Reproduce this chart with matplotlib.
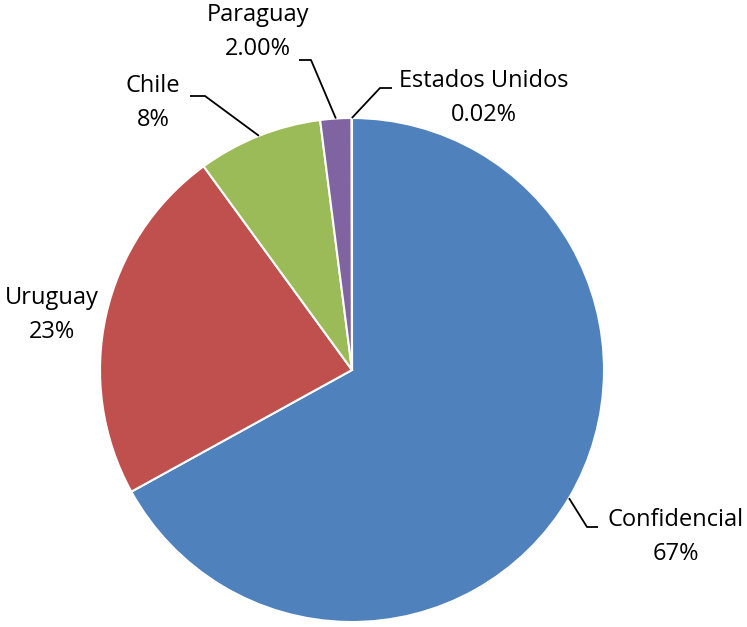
import numpy as np
import matplotlib
matplotlib.use("Agg")
import matplotlib.pyplot as plt

# datos del gráfico
paises = ["Confidencial", "Uruguay", "Chile", "Paraguay", "Estados Unidos"]
valores = [66.98, 23.0, 8.0, 2.0, 0.02]
etiquetas_pct = ["67%", "23%", "8%", "2.00%", "0.02%"]
colores = ["#4F81BD", "#C0504D", "#9BBB59", "#8064A2", "#4BACC6"]

W, H = 747, 627
plt.rcParams["font.family"] = ["Open Sans", "DejaVu Sans"]

fig = plt.figure(figsize=(W / 100, H / 100), dpi=100)
ax = fig.add_axes([0, 0, 1, 1])

cx, cy, r = 352, H - 370, 252
wedges, _ = ax.pie(valores, colors=colores, startangle=90, counterclock=False,
                   center=(cx, cy), radius=r, frame=True,
                   wedgeprops=dict(edgecolor="white", linewidth=1.5))
ax.set_xlim(0, W)
ax.set_ylim(0, H)
ax.axis("off")

# posiciones de texto (pixeles desde arriba) y codo de la línea guía
texto_pos = {
    "Confidencial": (676, 537),
    "Uruguay": (52, 315),
    "Chile": (153, 103),
    "Paraguay": (258, 32),
    "Estados Unidos": (484, 98),
}
codos = {
    "Confidencial": ((587, 527), (598, 527)),
    "Chile": ((205, 96), (190, 96)),
    "Paraguay": ((311, 60), (299, 60)),
    "Estados Unidos": ((380, 88), (392, 88)),
}

for w, nombre, pct in zip(wedges, paises, etiquetas_pct):
    tx, ty = texto_pos[nombre]
    ax.text(tx, H - ty, f"{nombre}\n{pct}", ha="center", va="center",
            fontsize=17, linespacing=1.55, color="black")
    if nombre in codos:
        ang = np.deg2rad((w.theta1 + w.theta2) / 2)
        ax0 = cx + r * np.cos(ang)
        ay0 = cy + r * np.sin(ang)
        (ex, ey), (hx, hy) = codos[nombre]
        ax.plot([ax0, ex, hx], [ay0, H - ey, H - hy], color="black", lw=1.3,
                solid_capstyle="butt")

fig.savefig("out.png", dpi=100)
